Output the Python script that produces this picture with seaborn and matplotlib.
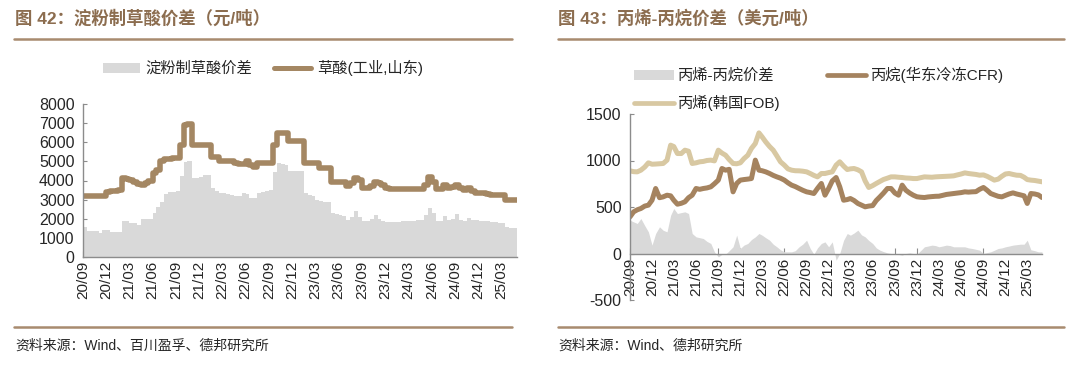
import numpy as np
import pandas as pd
import matplotlib
matplotlib.use("Agg")
import matplotlib.pyplot as plt
import matplotlib.dates as mdates
from matplotlib.patches import Patch
from matplotlib.lines import Line2D
import seaborn as sns

sns.set_style("ticks")
plt.rcParams['font.family'] = ['Liberation Sans', 'Noto Sans CJK SC', 'DejaVu Sans']
plt.rcParams['axes.unicode_minus'] = False

# ---- data: half-month points, 2020-09 .. 2025-05 ----
# oxalic acid price (industrial, Shandong), CNY/t
oxalic = [3200, 3200, 3200, 3200, 3200, 3200, 3400, 3430, 3450, 3480,
          4120, 4100, 4050, 3900, 3800, 3750, 3850, 3980, 4380, 4560,
          5000, 5130, 5150, 5180, 5200, 5860, 6900, 6940, 5860, 5860,
          5860, 5860, 5860, 5250, 5250, 5040, 5000, 5000, 5000, 4900,
          4870, 4870, 5030, 4820, 4730, 4940, 4940, 4940, 4940, 5860,
          6470, 6470, 6470, 6090, 6090, 6090, 6090, 4900, 4900, 4900,
          4900, 4640, 4640, 4640, 3910, 3910, 3910, 3910, 3690, 3860,
          4120, 4030, 3630, 3630, 3700, 3910, 3850, 3770, 3600, 3550,
          3550, 3550, 3550, 3550, 3550, 3550, 3550, 3550, 3750, 4200,
          3900, 3570, 3570, 3770, 3600, 3650, 3770, 3600, 3510, 3600,
          3450, 3370, 3370, 3340, 3300, 3250, 3250, 3230, 3220, 3000,
          3000, 3000, 3000]
# starch-route oxalic acid margin, CNY/t
starch_spread = [1550, 1340, 1340, 1340, 1250, 1430, 1430, 1290, 1290, 1290,
                 1900, 1900, 1800, 1770, 1690, 2000, 2000, 2000, 2300, 2640,
                 2900, 3290, 3390, 3400, 3430, 4210, 4990, 5030, 4120, 4150,
                 4200, 4300, 4300, 3600, 3450, 3340, 3340, 3300, 3250, 3200,
                 3170, 3340, 3300, 3080, 3080, 3370, 3400, 3450, 3480, 4470,
                 4900, 4850, 4820, 4500, 4500, 4500, 4500, 3340, 3250, 3200,
                 2990, 2950, 2900, 2900, 2300, 2250, 2200, 2120, 1950, 2100,
                 2380, 2070, 1900, 1900, 2000, 2210, 2000, 1900, 1830, 1830,
                 1850, 1850, 1870, 1870, 1900, 1900, 1950, 1950, 2200, 2560,
                 2300, 1900, 1900, 2120, 1950, 2000, 2240, 1950, 1900, 2030,
                 1950, 1950, 1900, 1900, 1880, 1850, 1830, 1800, 1770, 1550,
                 1520, 1510, 1510]

# propylene FOB Korea, USD/t
propylene = [889, 880, 878, 896, 930, 975, 960, 962, 965, 968,
             1004, 1165, 1150, 1075, 1075, 1111, 1100, 968, 975, 986,
             990, 1000, 1004, 996, 1111, 1080, 1057, 1010, 968, 965,
             975, 1020, 1057, 1130, 1183, 1297, 1254, 1200, 1150, 1111,
             1050, 986, 950, 910, 896, 890, 889, 885, 878, 860,
             840, 824, 860, 860, 870, 878, 950, 986, 940, 903,
             910, 914, 900, 878, 780, 710, 730, 753, 775, 796,
             810, 824, 824, 820, 817, 812, 810, 806, 806, 815,
             824, 822, 820, 824, 826, 828, 830, 832, 835, 845,
             855, 867, 860, 855, 850, 842, 845, 830, 810, 789,
             800, 830, 855, 860, 850, 842, 840, 820, 795, 789,
             785, 778, 771]
# propane CFR East China (refrigerated), USD/t
propane = [394, 448, 470, 484, 510, 520, 573, 699, 600, 609,
           627, 620, 573, 530, 540, 556, 600, 627, 699, 690,
           699, 705, 717, 750, 789, 914, 896, 905, 663, 753,
           789, 795, 800, 806, 1004, 896, 890, 878, 860, 840,
           824, 810, 789, 760, 735, 720, 699, 680, 663, 655,
           645, 700, 753, 627, 699, 780, 817, 717, 573, 580,
           591, 570, 538, 520, 502, 510, 515, 570, 609, 650,
           699, 699, 650, 627, 735, 681, 650, 627, 610, 605,
           602, 608, 612, 615, 616, 625, 635, 640, 645, 650,
           655, 663, 660, 663, 665, 690, 710, 680, 645, 630,
           615, 609, 625, 640, 652, 640, 630, 620, 538, 645,
           640, 630, 602]
# propylene - propane spread, USD/t
pdh_spread = [358, 340, 323, 376, 300, 233, 90, 215, 287, 250,
              233, 412, 484, 430, 440, 448, 430, 215, 179, 170,
              161, 130, 108, 18, -36, -10, -7, 30, 72, 197,
              54, 90, 108, 150, 179, 215, 197, 170, 143, 100,
              72, 40, 18, 18, 18, 30, 72, 100, 143, 54,
              -7, 60, 108, 125, 72, 125, -72, 0, 143, 215,
              197, 220, 251, 200, 179, 140, 108, 60, 36, 20,
              7, 0, -7, -10, -18, 0, 7, 0, -7, 30,
              72, 80, 90, 85, 72, 80, 90, 85, 72, 72,
              72, 72, 60, 54, 45, 36, 0, 10, 18, 35,
              54, 60, 72, 80, 90, 95, 100, 100, 143, 40,
              30, 18, 18]

dates = []
for m in range(57):
    d0 = pd.Timestamp(2020, 9, 1) + pd.DateOffset(months=m)
    dates.append(d0)
    dates.append(d0 + pd.Timedelta(days=15))
dates = dates[:len(oxalic)]

df1 = pd.DataFrame({'date': dates, 'oxalic': oxalic, 'spread': starch_spread})
df2 = pd.DataFrame({'date': dates, 'propylene': propylene, 'propane': propane, 'spread': pdh_spread})

quarters = pd.date_range('2020-09-01', '2025-03-01', freq='3MS')

TITLE_C = '#8C6D4F'
RULE_C = '#A88B6F'
OX_C = '#A48763'
PROPANE_C = '#A5835F'
PROPYLENE_C = '#D8C8A2'
AREA_C = '#D9D9D9'
SPINE_C = '#8C8C8C'

fig = plt.figure(figsize=(10.8, 3.66), dpi=100)

# titles, rules and sources
fig.text(15 / 1080, 1 - 18 / 366, '图 42：淀粉制草酸价差（元/吨）', fontsize=12.5, color=TITLE_C,
         fontweight='bold', va='center', ha='left')
fig.text(558 / 1080, 1 - 18 / 366, '图 43：丙烯-丙烷价差（美元/吨）', fontsize=12.5, color=TITLE_C,
         fontweight='bold', va='center', ha='left')
for x0, x1 in [(14, 512), (558, 1064)]:
    for y in (38.5, 327):
        fig.add_artist(Line2D([x0 / 1080, x1 / 1080], [1 - y / 366, 1 - y / 366],
                              color=RULE_C, lw=1.8, transform=fig.transFigure))
fig.text(15 / 1080, 1 - 346 / 366, '资料来源：Wind、百川盈孚、德邦研究所', fontsize=10, va='center')
fig.text(558 / 1080, 1 - 346 / 366, '资料来源：Wind、德邦研究所', fontsize=10, va='center')

# ---- left chart ----
ax1 = fig.add_axes([83 / 1080, 1 - 257 / 366, (517 - 83) / 1080, (257 - 104) / 366])
ax1.fill_between(df1['date'], df1['spread'], 0, step='post', color=AREA_C, lw=0)
sns.lineplot(data=df1, x='date', y='oxalic', ax=ax1, color=OX_C, lw=4.0, drawstyle='steps-post')
ax1.set_ylim(0, 8000)
ax1.set_yticks(np.arange(0, 8001, 1000))
ax1.set_xlim(dates[0], dates[-1])

# ---- right chart ----
ax2 = fig.add_axes([630 / 1080, 1 - 300 / 366, (1042 - 630) / 1080, (300 - 114) / 366])
ax2.fill_between(df2['date'], df2['spread'], 0, color=AREA_C, lw=0)
sns.lineplot(data=df2, x='date', y='propylene', ax=ax2, color=PROPYLENE_C, lw=3.6)
sns.lineplot(data=df2, x='date', y='propane', ax=ax2, color=PROPANE_C, lw=3.6)
ax2.set_ylim(-500, 1500)
ax2.set_yticks(np.arange(-500, 1501, 500))
ax2.set_xlim(dates[0], dates[-1])
ax2.spines['bottom'].set_position(('data', 0))

for ax in (ax1, ax2):
    ax.set_xlabel('')
    ax.set_ylabel('')
    ax.set_xticks(quarters)
    ax.xaxis.set_major_formatter(mdates.DateFormatter('%y/%m'))
    ax.tick_params(axis='x', rotation=90, labelsize=11, direction='in', length=4,
                   color=SPINE_C, pad=3)
    ax.tick_params(axis='y', labelsize=11.5, direction='in', length=3, color=SPINE_C, pad=6)
    for s in ('top', 'right'):
        ax.spines[s].set_visible(False)
    for s in ('left', 'bottom'):
        ax.spines[s].set_color(SPINE_C)
        ax.spines[s].set_linewidth(1)

# legends
h1 = [Patch(color=AREA_C, lw=0), Line2D([], [], color=OX_C, lw=3.6)]
ax1.legend(h1, ['淀粉制草酸价差', '草酸(工业,山东)'], ncol=2, frameon=False, fontsize=11,
           loc='upper left', bbox_to_anchor=(103 / 1080, 1 - 60 / 366),
           bbox_transform=fig.transFigure, borderpad=0, borderaxespad=0,
           handlelength=2.4, handleheight=0.6, handletextpad=0.4, columnspacing=1.4)

h2 = [Patch(color=AREA_C, lw=0), Line2D([], [], color=PROPYLENE_C, lw=3.4),
      Line2D([], [], color=PROPANE_C, lw=3.4)]
ax2.legend(h2, ['丙烯-丙烷价差', '丙烯(韩国FOB)', '丙烷(华东冷冻CFR)'], ncol=2, frameon=False,
           fontsize=11, loc='upper left', bbox_to_anchor=(634 / 1080, 1 - 67 / 366),
           bbox_transform=fig.transFigure, borderpad=0, borderaxespad=0,
           handlelength=2.6, handleheight=0.6, handletextpad=0.3, columnspacing=3.0,
           labelspacing=0.75)

fig.savefig('out.png', dpi=100)
